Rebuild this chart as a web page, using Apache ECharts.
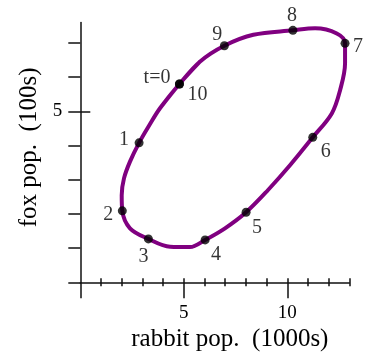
<!DOCTYPE html>
<html>
<head>
<meta charset="utf-8">
<script src="https://cdn.jsdelivr.net/npm/echarts@6/dist/echarts.min.js"></script>
<style>
    html, body { margin: 0; padding: 0; background: #fff; }
    #chart { width: 369px; height: 354px; }
</style>
</head>
<body>
<div id="chart"></div>
<script>
    // marked points on the orbit (t = 0 .. 10, t=10 is back at t=0)
    var pointNames = ['t=0', '1', '2', '3', '4', '5', '6', '7', '8', '9', '10'];
    var pointRabbit = [4.79, 2.84, 2.03, 3.29, 6.03, 8.01, 11.23, 12.79, 10.27, 6.96, 4.79];
    var pointFox = [5.80, 4.08, 2.09, 1.27, 1.24, 2.05, 4.24, 6.99, 7.37, 6.92, 5.80];

    // points, in order, starting and ending at t=0
    var curveRabbit = [4.79, 3.85, 3.34, 2.84, 2.40, 2.11, 2.00, 2.03, 2.40, 3.29, 4.34, 5.30, 6.03, 6.99, 8.01, 9.07, 10.14, 11.23, 12.15, 12.55, 12.79, 12.79, 12.39, 11.34, 10.27, 8.36, 6.96, 5.79, 4.79];
    var curveFox = [5.80, 5.09, 4.60, 4.08, 3.53, 3.04, 2.55, 2.09, 1.58, 1.27, 1.04, 1.03, 1.24, 1.58, 2.05, 2.70, 3.43, 4.24, 4.94, 5.62, 6.41, 6.99, 7.28, 7.43, 7.37, 7.24, 6.92, 6.46, 5.80];

    // axis ticks and labels
    var xTicks = [0, 1, 2, 3, 4, 5, 6, 7, 8, 9, 10, 11, 12, 13];
    var xLabels = [5, 10];
    var yTicks = [0, 1, 2, 3, 4, 5, 6, 7];
    var yLabels = [5];

    var serif = 'Liberation Serif';
    var ink = '#000';

    // label placement around each dot: [dx, dy, align]
    var labelPlace = {
        't=0': [-9, -6, 'right'],
        '10': [8, 11, 'left'],
        '1': [-15, -3, 'center'],
        '2': [-14, 4, 'center'],
        '3': [-5, 18, 'center'],
        '4': [11, 15, 'center'],
        '5': [11, 16, 'center'],
        '6': [13, 14, 'center'],
        '7': [13, 3, 'center'],
        '8': [-1, -15, 'center'],
        '9': [-7, -11, 'center']
    };

    // closed loop: wrap one point on each side so the smoothing has no kink at t=0
    var n = curveRabbit.length;
    var loop = [[curveRabbit[n - 2], curveFox[n - 2]]];
    for (var i = 0; i < n; i++) loop.push([curveRabbit[i], curveFox[i]]);
    loop.push([curveRabbit[1], curveFox[1]]);

    var dots = pointNames.map(function (name, i) {
        var p = labelPlace[name];
        return {
            name: name,
            value: [pointRabbit[i], pointFox[i]],
            label: { offset: [p[0], p[1]], align: p[2] }
        };
    });

    var xMinor = xTicks.filter(function (v) { return v !== 0 && xLabels.indexOf(v) < 0; });
    var xMajor = xTicks.filter(function (v) { return v === 0 || xLabels.indexOf(v) >= 0; });
    var xInner = xTicks.filter(function (v) { return v !== 0; });

    var axisLineStyle = { color: '#111', width: 1.5 };

    function xAxisBase() {
        return {
            type: 'value', min: 0, max: 13, position: 'bottom',
            splitLine: { show: false },
            axisLine: { show: false, onZero: false },
            axisLabel: { show: false },
            axisTick: { show: false }
        };
    }
    function yAxisBase() {
        return {
            type: 'value', min: 0, max: 7.6, position: 'left',
            splitLine: { show: false },
            axisLine: { show: false, onZero: false },
            axisLabel: { show: false },
            axisTick: { show: false }
        };
    }

    var x0 = xAxisBase();
    x0.axisLine = { show: true, onZero: false, lineStyle: axisLineStyle };
    x0.axisTick = { show: true, inside: true, length: 4, customValues: xInner, lineStyle: axisLineStyle };
    x0.axisLabel = { show: true, customValues: xLabels, margin: 21, color: ink, fontFamily: serif, fontSize: 19 };
    x0.name = 'rabbit pop.  (1000s)';
    x0.nameLocation = 'middle';
    x0.nameGap = 40;
    x0.nameTextStyle = { color: ink, fontFamily: serif, fontSize: 25, padding: [0, 0, 0, 30] };

    var x1 = xAxisBase();
    x1.axisTick = { show: true, length: 4, customValues: xMinor, lineStyle: axisLineStyle };

    var x2 = xAxisBase();
    x2.axisTick = { show: true, length: 16, customValues: xMajor, lineStyle: axisLineStyle };

    var y0 = yAxisBase();
    y0.axisLine = { show: true, onZero: false, lineStyle: axisLineStyle };
    y0.axisTick = { show: true, length: 12, customValues: yTicks, lineStyle: axisLineStyle };
    y0.axisLabel = { show: true, customValues: yLabels, margin: 18, color: ink, fontFamily: serif, fontSize: 19 };
    y0.name = 'fox pop.  (100s)';
    y0.nameLocation = 'middle';
    y0.nameGap = 37;
    y0.nameTextStyle = { color: ink, fontFamily: serif, fontSize: 25, padding: [0, 0, 0, 10] };

    var y1 = yAxisBase();
    y1.axisTick = { show: true, inside: true, length: 10, customValues: yLabels, lineStyle: axisLineStyle };

    var myChart = echarts.init(document.getElementById('chart'));
    var option = {
        animation: false,
        backgroundColor: '#fff',
        grid: {
            left: 80.3, right: 19.6, top: 22.5, bottom: 71.7,
            containLabel: false,
            outerBoundsMode: 'none'
        },
        xAxis: [x0, x1, x2],
        yAxis: [y0, y1],
        series: [
            {
                type: 'line',
                xAxisIndex: 0,
                yAxisIndex: 0,
                data: loop,
                smooth: 0.35,
                showSymbol: false,
                symbol: 'none',
                lineStyle: { color: '#800080', width: 4 },
                z: 2
            },
            {
                type: 'scatter',
                xAxisIndex: 0,
                yAxisIndex: 0,
                data: dots,
                symbol: 'circle',
                symbolSize: 9,
                itemStyle: { color: '#000' },
                label: {
                    show: true,
                    position: 'inside',
                    formatter: '{b}',
                    verticalAlign: 'middle',
                    color: ink,
                    fontFamily: serif,
                    fontSize: 20
                },
                z: 3
            }
        ]
    };
    myChart.setOption(option);
</script>
</body>
</html>
